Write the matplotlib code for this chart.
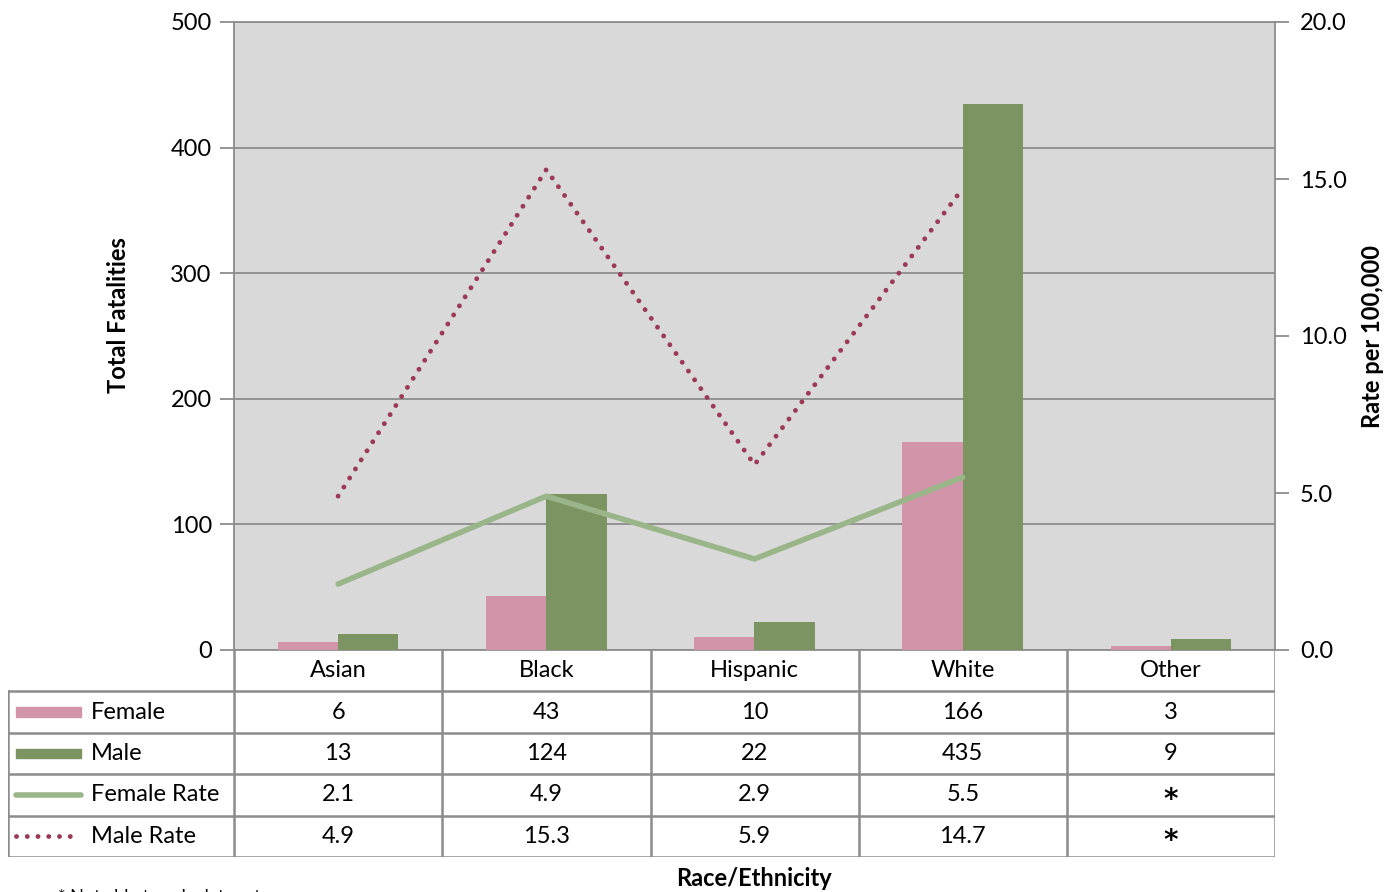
import numpy as np
import matplotlib.pyplot as plt

# data
races = ['Asian', 'Black', 'Hispanic', 'White', 'Other']
female = [6, 43, 10, 166, 3]
male = [13, 124, 22, 435, 9]
female_rate = [2.1, 4.9, 2.9, 5.5]
male_rate = [4.9, 15.3, 5.9, 14.7]
female_rate_lbl = ['2.1', '4.9', '2.9', '5.5', '*']
male_rate_lbl = ['4.9', '15.3', '5.9', '14.7', '*']

c_female = '#D194A8'
c_male = '#7C9462'
c_frate = '#9BB58A'
c_mrate = '#9A3A56'
c_grid = '#8C8C8C'
plt.rcParams['font.family'] = ['Lato', 'DejaVu Sans']
fs = 17

W, H = 1398, 892
fig = plt.figure(figsize=(W / 100, H / 100), dpi=100)

def box(x0, y0, x1, y1):
    return [x0 / W, 1 - y1 / H, (x1 - x0) / W, (y1 - y0) / H]

ax = fig.add_axes(box(234, 22, 1275, 650))
ax.set_facecolor('#D9D9D9')
x = np.arange(len(races))
bw = 0.29
ax.bar(x - bw / 2, female, bw, color=c_female, zorder=3)
ax.bar(x + bw / 2, male, bw, color=c_male, zorder=3)
ax.set_xlim(-0.5, 4.5)
ax.set_ylim(0, 500)
ax.set_yticks(range(0, 501, 100))
ax.yaxis.grid(True, color=c_grid, lw=1.3, zorder=0)
ax.set_xticks([])
for s in ax.spines.values():
    s.set_color(c_grid)
    s.set_linewidth(1.3)
ax.tick_params(axis='y', length=10, width=1.3, color=c_grid, labelsize=fs, pad=6)

ax2 = ax.twinx()
ax2.set_ylim(0, 20)
ax2.set_yticks(np.arange(0, 20.1, 5))
ax2.set_yticklabels([f'{v:.1f}' for v in np.arange(0, 20.1, 5)])
ax2.tick_params(axis='y', length=10, width=1.3, color=c_grid, labelsize=fs, pad=8)
for s in ax2.spines.values():
    s.set_visible(False)
ax2.plot(x[:4], female_rate, color=c_frate, lw=4, solid_capstyle='round', zorder=4)
ax2.plot(x[:4], male_rate, color=c_mrate, lw=3.5, ls=(0, (0.01, 2.2)),
         dash_capstyle='round', zorder=4)

# data table below the plot
tx = fig.add_axes(box(8, 650, 1275, 857))
tx.set_xlim(-0.5 - 226 / 208, 4.5)
tx.set_ylim(5, 0)
tx.axis('off')
left = -0.5 - 226 / 208
lc = dict(color=c_grid, lw=1.8)
for r in range(1, 6):
    tx.plot([left, 4.5], [r, r], **lc)
tx.plot([left, left], [1, 5], **lc)
for c in range(6):
    tx.plot([c - 0.5, c - 0.5], [0, 5], **lc)
for i, name in enumerate(races):
    tx.text(i, 0.5, name, ha='center', va='center', fontsize=fs)
rows = [('Female', [str(v) for v in female]),
        ('Male', [str(v) for v in male]),
        ('Female Rate', female_rate_lbl),
        ('Male Rate', male_rate_lbl)]
for r, (lab, vals) in enumerate(rows, start=1):
    yc = r + 0.5
    for i, v in enumerate(vals):
        if v == '*':
            tx.text(i, yc + 0.12, v, ha='center', va='center', fontsize=20,
                    family='DejaVu Sans', fontweight='bold')
        else:
            tx.text(i, yc, v, ha='center', va='center', fontsize=fs)
    tx.text(left + 0.4, yc, lab, ha='left', va='center', fontsize=fs)
x0, x1 = left + 0.04, left + 0.35
tx.fill_between([x0, x1], 1.38, 1.62, color=c_female)
tx.fill_between([x0, x1], 2.38, 2.62, color=c_male)
tx.plot([x0, x1], [3.5, 3.5], color=c_frate, lw=4, solid_capstyle='round')
tx.plot([x0, x1 - 0.02], [4.5, 4.5], color=c_mrate, lw=3.5, ls=(0, (0.01, 2.2)),
        dash_capstyle='round')

fig.text(118 / W, 1 - 315 / H, 'Total Fatalities', rotation=90, ha='center',
         va='center', fontsize=fs, fontweight='bold')
fig.text(1372 / W, 1 - 337 / H, 'Rate per 100,000', rotation=90, ha='center',
         va='center', fontsize=fs, fontweight='bold')
fig.text(754 / W, 1 - 879 / H, 'Race/Ethnicity', ha='center', va='center',
         fontsize=fs, fontweight='bold')
fig.text(58 / W, 1 - 897 / H, '* Not able to calculate rate', ha='left',
         va='center', fontsize=13)

fig.savefig('out.png', dpi=100)
